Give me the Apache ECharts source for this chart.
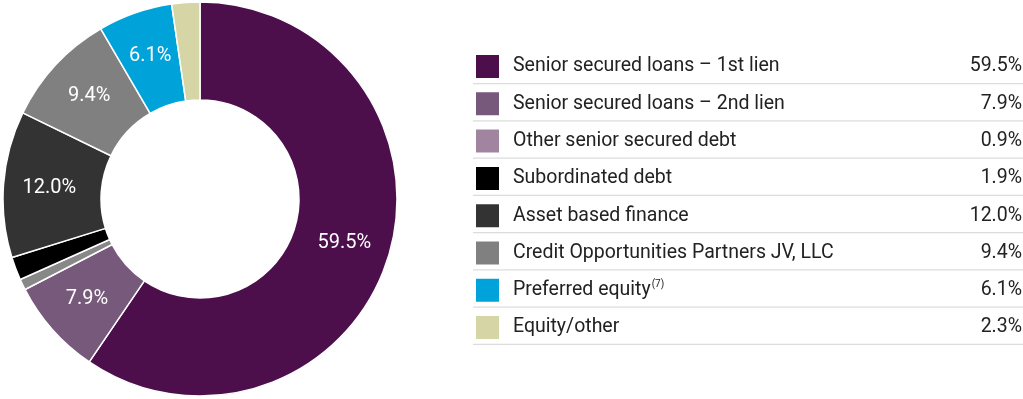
<!DOCTYPE html>
<html>
<head>
<meta charset="utf-8">
<script src="https://cdn.jsdelivr.net/npm/echarts@6/dist/echarts.min.js"></script>
<style>
  html, body { margin: 0; padding: 0; background: #fff; }
  #chart { width: 1023px; height: 399px; }
</style>
</head>
<body>
<div id="chart"></div>
<script>
const categories = [
    "Senior secured loans \u2013 1st lien",
    "Senior secured loans \u2013 2nd lien",
    "Other senior secured debt",
    "Subordinated debt",
    "Asset based finance",
    "Credit Opportunities Partners JV, LLC",
    "Preferred equity",
    "Equity/other"
];
const shares = [59.5, 7.9, 0.9, 1.9, 12.0, 9.4, 6.1, 2.3];
const footnotes = ["", "", "", "", "", "", "(7)", ""];
const legendColors = ["#4c0f4c", "#77597c", "#a084a0", "#000000", "#333333", "#808080", "#00a3d9", "#d5d5a6"];
const sliceColors = ["#4c0f4c", "#77597c", "#888888", "#000000", "#333333", "#808080", "#00a3d9", "#d5d5a6"];

const FONT = "Roboto, 'Noto Sans', sans-serif";
const FS = 19.5;
const chart = echarts.init(document.getElementById("chart"));

const rowTop = 53, rowStep = 37.1, box = 25;
const nameW = 437, supPad = 1;

// width of a name in the legend font, so the footnote row keeps the value column aligned
const ctx = document.createElement("canvas").getContext("2d");
ctx.font = FS + "px " + FONT;
const textW = (s) => ctx.measureText(s).width;

const lines = categories.map((c, i) => ({
    type: "line",
    shape: { x1: 473, y1: 83.7 + i * 37.23, x2: 1023, y2: 83.7 + i * 37.23 },
    style: { stroke: "#dcdcdc", lineWidth: 1.2 },
    silent: true
}));

const rich = {
    n: { fontFamily: FONT, fontSize: FS, color: "#222", lineHeight: 22, width: nameW, padding: [0, 0, 0, 8] },
    m: { fontFamily: FONT, fontSize: FS, color: "#222", lineHeight: 22, padding: [0, 0, 0, 8] },
    v: { fontFamily: FONT, fontSize: FS, color: "#222", lineHeight: 22, width: 72, align: "right" }
};
categories.forEach((c, i) => {
    if (footnotes[i]) {
        rich["s" + i] = {
            fontFamily: FONT, fontSize: 10, color: "#222", lineHeight: 22,
            verticalAlign: "top", padding: [0, 0, 0, supPad],
            width: nameW - textW(c) - supPad
        };
    }
});

chart.setOption({
    backgroundColor: "#fff",
    animation: false,
    graphic: lines,
    legend: {
        orient: "vertical",
        left: 474,
        top: rowTop,
        padding: 0,
        itemWidth: box,
        itemHeight: box,
        itemGap: rowStep - 26.8,
        icon: "rect",
        selectedMode: false,
        data: categories.map((c, i) => ({ name: c, itemStyle: { color: legendColors[i] } })),
        formatter: (name) => {
            const i = categories.indexOf(name);
            const val = "{v|" + shares[i].toFixed(1) + "%}";
            if (footnotes[i]) return "{m|" + name + "}{s" + i + "|" + footnotes[i] + "}" + val;
            return "{n|" + name + "}" + val;
        },
        textStyle: { lineHeight: 22, rich: rich }
    },
    series: [{
        type: "pie",
        center: [200, 199],
        radius: [99, 197],
        startAngle: 90,
        clockwise: true,
        avoidLabelOverlap: false,
        itemStyle: { borderColor: "#fff", borderWidth: 1.5 },
        label: {
            show: true,
            position: "inside",
            color: "#fff",
            fontFamily: FONT,
            fontSize: 20,
            formatter: (p) => (p.value >= 5 ? p.value.toFixed(1) + "%" : "")
        },
        labelLine: { show: false },
        emphasis: { disabled: true },
        data: categories.map((c, i) => ({ name: c, value: shares[i], itemStyle: { color: sliceColors[i] } }))
    }]
});
</script>
</body>
</html>
